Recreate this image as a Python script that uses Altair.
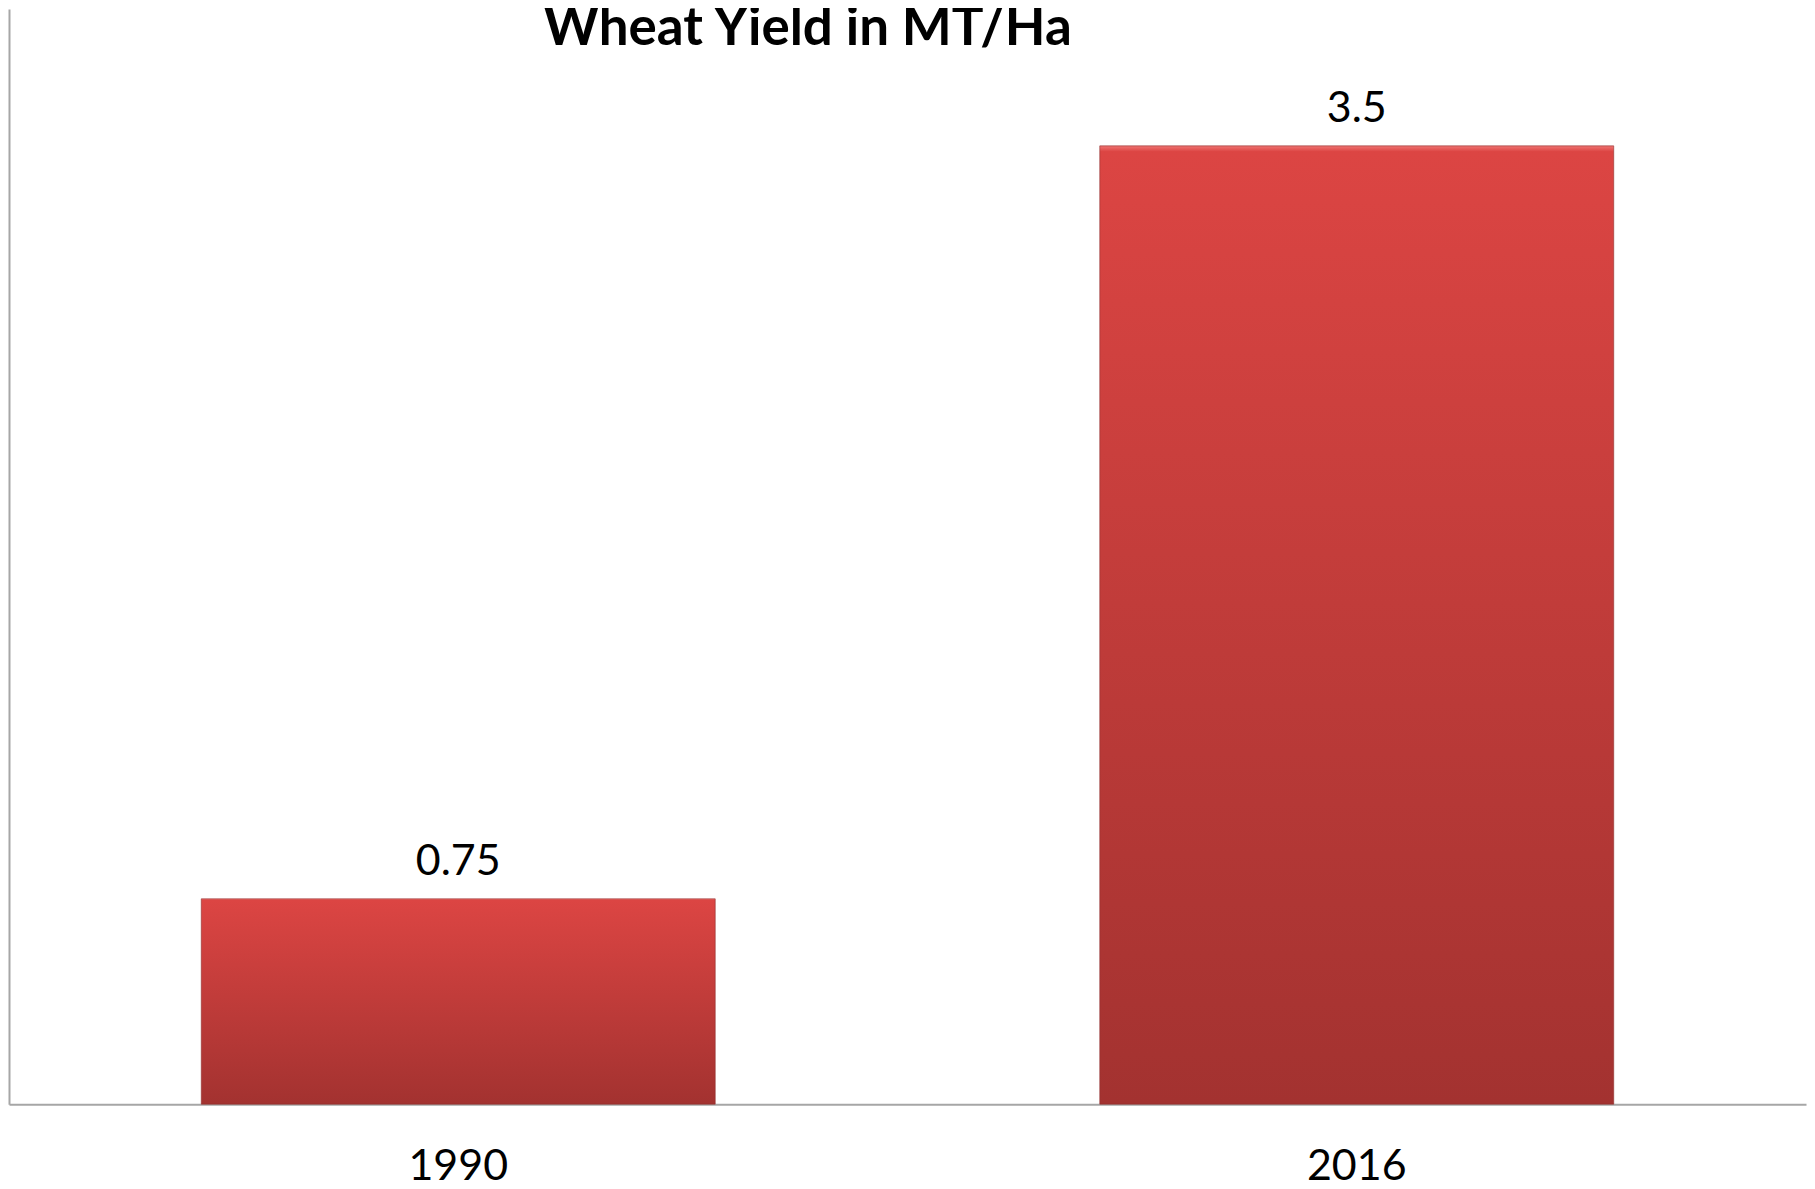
import altair as alt
import pandas as pd

years = ["1990", "2016"]
yields = [0.75, 3.5]
labels = ["0.75", "3.5"]
title_text = "Wheat Yield in MT/Ha"

df = pd.DataFrame({"year": years, "yield": yields, "label": labels})

grad = alt.LinearGradient(
    gradient="linear", x1=0, y1=0, x2=0, y2=1,
    stops=[
        alt.GradientStop(offset=0, color="#F07472"),
        alt.GradientStop(offset=0.006, color="#DC4543"),
        alt.GradientStop(offset=1, color="#A33230"),
    ],
)

x = alt.X(
    "year:N", sort=years, title=None,
    scale=alt.Scale(paddingInner=0.428, paddingOuter=0.214),
    axis=alt.Axis(
        labelAngle=0, labelFont="Lato", labelFontSize=43, labelColor="#000000",
        labelBaseline="alphabetic", labelPadding=75, ticks=False, tickSize=0,
        domainColor="#A6A6A6", domainWidth=2, grid=False,
    ),
)
y = alt.Y(
    "yield:Q", title=None,
    scale=alt.Scale(domain=[0, 4], nice=False),
    axis=alt.Axis(labels=False, ticks=False, grid=False, domainColor="#A6A6A6", domainWidth=2),
)

bars = alt.Chart(df).mark_bar(color=grad, stroke="#8f2d2b", strokeWidth=1, strokeOpacity=0.6).encode(x=x, y=y)

text = alt.Chart(df).mark_text(
    font="Lato", fontSize=43, color="#000000", baseline="alphabetic", dy=-24
).encode(x=alt.X("year:N", sort=years), y="yield:Q", text="label:N")

title = alt.Chart(pd.DataFrame({"t": [title_text]})).mark_text(
    font="Lato", fontSize=53, fontWeight="bold", color="#000000",
    align="center", baseline="alphabetic",
).encode(x=alt.value(800), y=alt.value(36), text="t:N")

chart = (bars + text + title).properties(
    width=1800, height=1097,
    autosize=alt.AutoSizeParams(type="none"),
    padding={"left": 1, "top": 0, "right": 1, "bottom": 77},
).configure_view(stroke=None)

chart.save("out.html", embed_options={"renderer": "svg", "actions": False})
